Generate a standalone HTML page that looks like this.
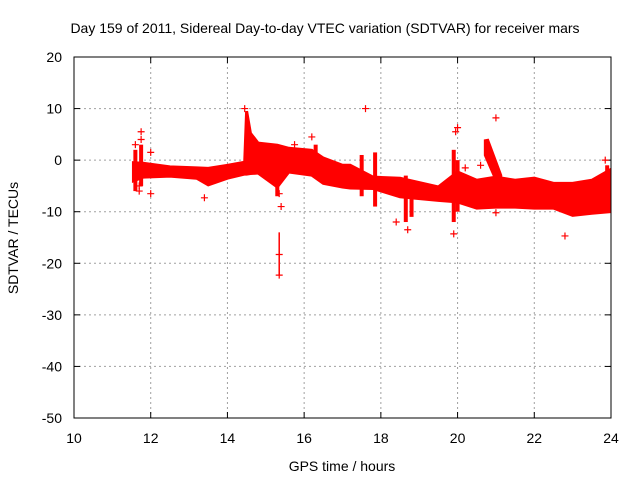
<!DOCTYPE html>
<html><head><meta charset="utf-8"><style>
body{margin:0;background:#fff}
svg text{font-family:"Liberation Sans",sans-serif;font-size:14px;fill:#000}
</style></head><body>
<svg id="c" width="640" height="480">
<text x="325" y="33" text-anchor="middle">Day 159 of 2011, Sidereal Day-to-day VTEC variation (SDTVAR) for receiver mars</text>
<text x="342" y="471" text-anchor="middle">GPS time / hours</text>
<text transform="translate(18,238) rotate(-90)" text-anchor="middle">SDTVAR / TECUs</text>
<g id="grid"></g><g id="marks"></g>
<rect x="74" y="57" width="537" height="361" fill="none" stroke="#000"/>
</svg>
<script>
const xTicks=[10,12,14,16,18,20,22,24];
const yTicks=[20,10,0,-10,-20,-30,-40,-50];
const bandT=[11.55,11.8,12.5,13.2,13.5,14,14.45,14.5,14.6,14.8,15.3,15.6,16.2,16.5,17,17.2,17.8,18.5,19.5,20,20.5,21,21.5,22,22.5,23,23.5,23.95];
const bandHi=[-0.5,-0.6,-1.3,-1.5,-1.6,-1,-0.4,9.5,5.2,3.3,2.9,2.3,1.9,0.4,-1,-1,-3.3,-3.5,-5.2,-2.3,-3.9,-3.3,-3.9,-3.5,-4.5,-4.5,-3.9,-2];
const bandLo=[-4,-3.3,-3.1,-3.5,-4.8,-3.5,-2.7,-2.7,-2.6,-2.5,-5.2,-2.3,-2.9,-4.5,-5.2,-5.4,-5.5,-7.1,-7.8,-8.1,-9.3,-9.1,-9.1,-9.3,-9.3,-10.7,-10.3,-10];
const spikeT=[11.6,11.75,15.3,16.3,17.5,17.85,18.65,18.8,19.9,20,23.9];
const spikeHi=[2,3,-1,3,1,1.5,-3,-4,2,0,-1];
const spikeLo=[-6,-5,-7,-1,-7,-9,-12,-11,-12,-10,-9];
const diagT=[20.75,21.1];
const diagHi=[4,-3];
const diagLo=[1,-5];
const outT=[11.75,11.75,11.6,12,11.7,11.7,12,13.4,15.35,15.4,15.35,15.35,17.6,18.4,18.7,19.9,20,19.95,21,22.8,23.85,16.2,15.75,20.2,20.6,21,14.45];
const outV=[5.5,4,3,1.5,-5,-6,-6.5,-7.3,-6.5,-9,-18.3,-22.3,10,-12,-13.5,-14.3,6.3,5.5,8.2,-14.7,0,4.5,3,-1.5,-1,-10.2,10];
const X=t=>74+(t-10)*537/14, Y=v=>57+(20-v)*361/70;
const NS='http://www.w3.org/2000/svg';
const g=document.getElementById('grid'), m=document.getElementById('marks');
function mk(p,tag,a){const e=document.createElementNS(NS,tag);for(const k in a)e.setAttribute(k,a[k]);p.appendChild(e);return e;}
xTicks.forEach(t=>{
 if(t>10&&t<24){const l=mk(g,'line',{x1:X(t),x2:X(t),y1:57,y2:418,stroke:'#a0a0a0','stroke-dasharray':'2,3'});
 
 }
 mk(g,'line',{x1:X(t),x2:X(t),y1:418,y2:412,stroke:'#000'});mk(g,'line',{x1:X(t),x2:X(t),y1:57,y2:63,stroke:'#000'});
 const tx=mk(g,'text',{x:X(t),y:443,'text-anchor':'middle'});tx.textContent=t;
 
 
});
yTicks.forEach(v=>{
 if(v<20&&v>-50){const l=mk(g,'line',{x1:74,x2:611,y1:Y(v),y2:Y(v),stroke:'#a0a0a0','stroke-dasharray':'2,3'});
 
 }
 mk(g,'line',{x1:74,x2:80,y1:Y(v),y2:Y(v),stroke:'#000'});mk(g,'line',{x1:611,x2:605,y1:Y(v),y2:Y(v),stroke:'#000'});
 const tx=mk(g,'text',{x:62,y:Y(v)+5,'text-anchor':'end'});tx.textContent=v;
 
 
});
let pts=bandT.map((t,i)=>X(t)+','+Y(bandHi[i]));
for(let i=bandT.length-1;i>=0;i--)pts.push(X(bandT[i])+','+Y(bandLo[i]));
const band=mk(m,'polygon',{points:pts.join(' '),fill:'#f00',stroke:'#f00','stroke-width':3});


spikeT.forEach((t,i)=>{const r=mk(m,'rect',{x:X(t)-2,y:Y(spikeHi[i]),width:4,height:Y(spikeLo[i])-Y(spikeHi[i]),fill:'#f00'});
 
 });
const d=mk(m,'polygon',{points:[X(diagT[0])+','+Y(diagHi[0]),X(diagT[1])+','+Y(diagHi[1]),X(diagT[1])+','+Y(diagLo[1]),X(diagT[0])+','+Y(diagLo[0])].join(' '),fill:'#f00',stroke:'#f00','stroke-width':5});


const eb=mk(m,'line',{x1:X(15.35),x2:X(15.35),y1:Y(-14),y2:Y(-22.3),stroke:'#f00','stroke-width':1.5});


outT.forEach((t,i)=>{const x=X(t),y=Y(outV[i]);const c=outV[i]<-30?'#000':'#f00';
 const p=mk(m,'path',{d:`M${x-3.5},${y}H${x+3.5}M${x},${y-3.5}V${y+3.5}`,stroke:c,'stroke-width':1.2});
 
 });
</script>
</body></html>
